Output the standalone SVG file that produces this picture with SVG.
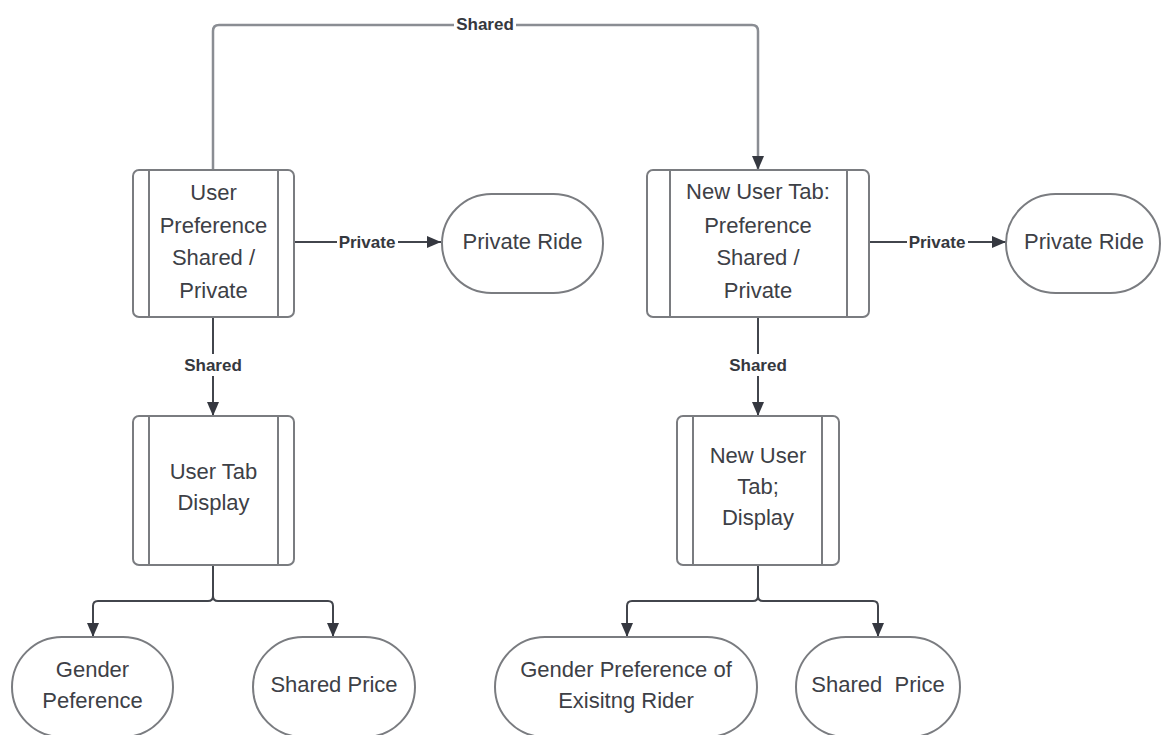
<svg xmlns="http://www.w3.org/2000/svg" width="1161" height="735" viewBox="0 0 1161 735">
<style>
.box{fill:#fff;stroke:#7a7c80;stroke-width:2}
.inner{stroke:#7a7c80;stroke-width:2;fill:none}
.t{font-family:"Liberation Sans",Arial,sans-serif;font-size:22px;fill:#3d4046;text-anchor:middle}
.lbl{font-family:"Liberation Sans",Arial,sans-serif;font-size:17px;font-weight:bold;fill:#35383e;text-anchor:middle}
.ln{fill:none;stroke:#42454c;stroke-width:2}
.ln2{fill:none;stroke:#8a8d93;stroke-width:2.5}
.bg{fill:#fff}
</style>
<defs>
<marker id="ah" markerUnits="userSpaceOnUse" markerWidth="14" markerHeight="12" refX="14" refY="6" orient="auto">
<path d="M0,0 L14,6 L0,12 z" fill="#353840"/>
</marker>
</defs>
<rect width="1161" height="735" fill="#fff"/>
<g id="connectors">
<path class="ln2" d="M213,170 V31 Q213,25 219,25 H752 Q758,25 758,31 V170" marker-end="url(#ah)"/>
<rect class="bg" x="454" y="14" width="62" height="20"/>
<text class="lbl" x="485" y="30">Shared</text>
<path class="ln" d="M294,242 H441" marker-end="url(#ah)"/>
<rect class="bg" x="337" y="232" width="61" height="20"/>
<text class="lbl" x="367" y="248">Private</text>
<path class="ln" d="M869,242 H1006" marker-end="url(#ah)"/>
<rect class="bg" x="907" y="232" width="61" height="20"/>
<text class="lbl" x="937" y="248">Private</text>
<path class="ln" d="M213,317 V416" marker-end="url(#ah)"/>
<rect class="bg" x="182" y="354" width="62" height="22"/>
<text class="lbl" x="213" y="371">Shared</text>
<path class="ln" d="M758,317 V416" marker-end="url(#ah)"/>
<rect class="bg" x="727" y="354" width="62" height="22"/>
<text class="lbl" x="758" y="371">Shared</text>
<path class="ln" d="M213,565 V596 Q213,601 208,601 H98 Q93,601 93,606 V637" marker-end="url(#ah)"/>
<path class="ln" d="M213,596 Q213,601 218,601 H328 Q333,601 333,606 V637" marker-end="url(#ah)"/>
<path class="ln" d="M758,565 V596 Q758,601 753,601 H632 Q627,601 627,606 V637" marker-end="url(#ah)"/>
<path class="ln" d="M758,596 Q758,601 763,601 H873 Q878,601 878,606 V637" marker-end="url(#ah)"/>
</g>
<g id="user-preference">
<rect class="box" x="133" y="170" width="161" height="147" rx="6"/>
<path class="inner" d="M149,170 V317 M278,170 V317"/>
<text class="t"><tspan x="213.5" y="200">User</tspan><tspan x="213.5" y="232.5">Preference</tspan><tspan x="213.5" y="265">Shared /</tspan><tspan x="213.5" y="297.5">Private</tspan></text>
</g>
<g id="private-ride-1">
<rect class="box" x="442" y="194" width="161" height="99" rx="49.5"/>
<text class="t" x="522.5" y="249">Private Ride</text>
</g>
<g id="new-user-preference">
<rect class="box" x="647" y="170" width="222" height="147" rx="6"/>
<path class="inner" d="M670,170 V317 M847,170 V317"/>
<text class="t"><tspan x="758" y="199">New User Tab:</tspan><tspan x="758" y="232.5">Preference</tspan><tspan x="758" y="265">Shared /</tspan><tspan x="758" y="297.5">Private</tspan></text>
</g>
<g id="private-ride-2">
<rect class="box" x="1006" y="194" width="154" height="99" rx="49.5"/>
<text class="t" x="1084" y="249">Private Ride</text>
</g>
<g id="user-tab-display">
<rect class="box" x="133" y="416" width="161" height="149" rx="6"/>
<path class="inner" d="M149,416 V565 M278,416 V565"/>
<text class="t"><tspan x="213.5" y="479">User Tab</tspan><tspan x="213.5" y="510">Display</tspan></text>
</g>
<g id="new-user-tab-display">
<rect class="box" x="677" y="416" width="162" height="149" rx="6"/>
<path class="inner" d="M693,416 V565 M822,416 V565"/>
<text class="t"><tspan x="758" y="463">New User</tspan><tspan x="758" y="494">Tab;</tspan><tspan x="758" y="525">Display</tspan></text>
</g>
<g id="gender-preference">
<rect class="box" x="12" y="637" width="161" height="100" rx="50"/>
<text class="t"><tspan x="92.5" y="677">Gender</tspan><tspan x="92.5" y="708">Peference</tspan></text>
</g>
<g id="shared-price-1">
<rect class="box" x="253" y="637" width="162" height="100" rx="50"/>
<text class="t" x="334" y="692">Shared Price</text>
</g>
<g id="gender-preference-existing">
<rect class="box" x="495" y="637" width="262" height="100" rx="50"/>
<text class="t"><tspan x="626" y="677">Gender Preference of</tspan><tspan x="626" y="708">Exisitng Rider</tspan></text>
</g>
<g id="shared-price-2">
<rect class="box" x="796" y="637" width="164" height="100" rx="50"/>
<text class="t" x="878" y="692" xml:space="preserve">Shared  Price</text>
</g>
</svg>
